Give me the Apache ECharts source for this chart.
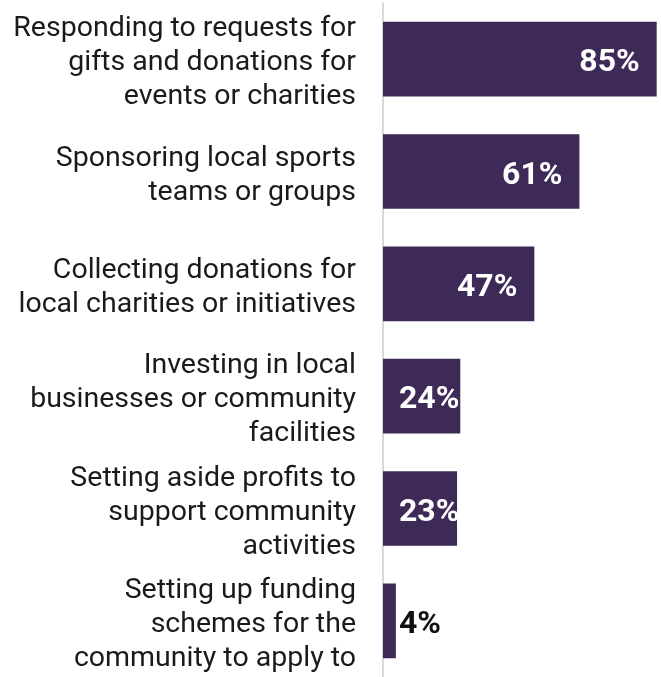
<!DOCTYPE html>
<html>
<head>
<meta charset="utf-8">
<script src="https://cdn.jsdelivr.net/npm/echarts@6/dist/echarts.min.js"></script>
<style>
  html, body { margin: 0; padding: 0; background: #ffffff; }
  #chart { width: 661px; height: 677px; }
</style>
</head>
<body>
<div id="chart"></div>
<script>
// Community activities undertaken (share of respondents, %)
const categories = [
  'Responding to requests for\ngifts and donations for\nevents or charities',
  'Sponsoring local sports\nteams or groups',
  'Collecting donations for\nlocal charities or initiatives',
  'Investing in local\nbusinesses or community\nfacilities',
  'Setting aside profits to\nsupport community\nactivities',
  'Setting up funding\nschemes for the\ncommunity to apply to'
];
const values = [85, 61, 47, 24, 23, 4];

const BAR = '#3e2a57';
const FONT = 'Roboto, "Noto Sans", sans-serif';

// Long bars carry their label at the right end, short ones start it near the axis;
// a label that no longer fits on a bar turns dark.
const barData = values.map(function (v) {
  let label;
  if (v >= 40) {
    label = { position: 'insideRight', distance: 17, color: '#ffffff' };
  } else if (v >= 10) {
    label = { position: 'insideLeft', distance: 16, color: '#ffffff' };
  } else {
    label = { position: 'insideLeft', distance: 16, color: '#111111' };
  }
  return { value: v, label: label };
});

const chart = echarts.init(document.getElementById('chart'), null, { renderer: 'canvas' });
chart.setOption({
  animation: false,
  grid: { left: 383, top: 3, right: 4.3, height: 678, containLabel: false },
  xAxis: {
    type: 'value', min: 0, max: 85, show: false
  },
  yAxis: {
    type: 'category',
    data: categories,
    inverse: true,
    axisLine: { show: true, lineStyle: { color: '#d9d9d9', width: 2 } },
    axisTick: { show: false },
    axisLabel: {
      margin: 27,
      color: '#1a1a1a',
      fontFamily: FONT,
      fontSize: 28.5,
      lineHeight: 34,
      align: 'right',
      // a thin spacer line on top nudges each text block down a little
      formatter: function (v) { return '{s|}\n' + v; },
      rich: { s: { fontSize: 1, lineHeight: 8 } }
    }
  },
  series: [{
    type: 'bar',
    data: barData,
    barCategoryGap: '33.6%',
    itemStyle: { color: BAR },
    label: {
      show: true,
      formatter: '{c}%',
      fontFamily: FONT,
      fontWeight: 'bold',
      fontSize: 32,
      offset: [0, 4]
    }
  }]
});
</script>
</body>
</html>
